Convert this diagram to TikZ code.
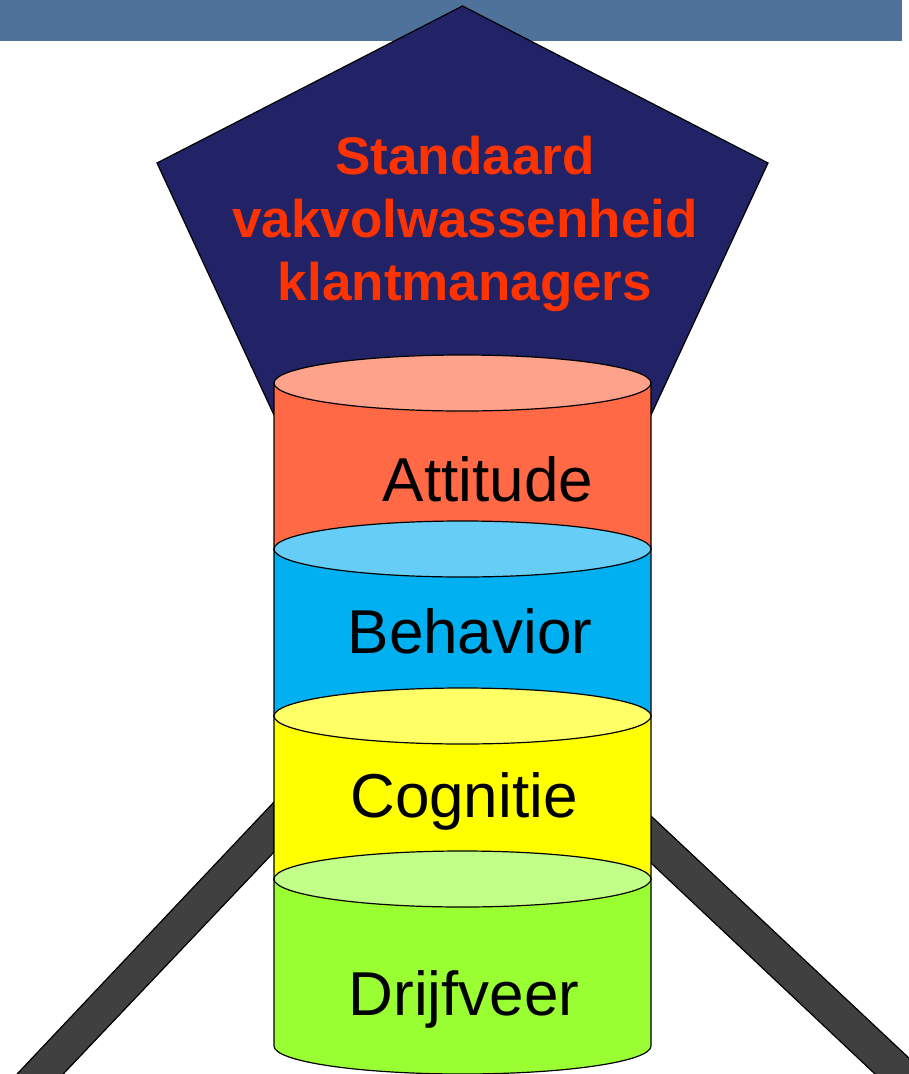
\documentclass[tikz,border=0pt]{standalone}
\usepackage{fontspec}
\setmainfont{Liberation Sans}
\definecolor{barblue}{HTML}{4E7299}
\definecolor{penta}{HTML}{222266}
\definecolor{titlered}{HTML}{FF3300}
\definecolor{attbody}{HTML}{FF6946}
\definecolor{atttop}{HTML}{FFA28C}
\definecolor{behbody}{HTML}{00B0F0}
\definecolor{behtop}{HTML}{66CEF6}
\definecolor{cogbody}{HTML}{FFFF00}
\definecolor{cogtop}{HTML}{FFFF66}
\definecolor{drijbody}{HTML}{99FF33}
\definecolor{drijtop}{HTML}{C2FF88}
\definecolor{leggray}{HTML}{404040}
\begin{document}
\begin{tikzpicture}[x=1pt,y=-1pt,
  outline/.style={draw=black,line width=1.2pt,line join=miter},
  titletext/.style={inner sep=0pt,anchor=base,text=titlered,font=\fontsize{53}{63}\selectfont\bfseries},
  layertext/.style={inner sep=0pt,anchor=base,text=black,font=\fontsize{62}{70}\selectfont}]
\useasboundingbox (0,0) rectangle (909,1074);
\clip (0,0) rectangle (909,1074);
% top bar
\fill[barblue] (0,0) rectangle (902,41);
% legs
\filldraw[outline,fill=leggray] (274,802) -- (2,1090) -- (48,1090) -- (274,852) -- cycle;
\filldraw[outline,fill=leggray] (651,816) -- (943,1090) -- (892,1090) -- (651,863) -- cycle;
% pentagon
\filldraw[outline,fill=penta] (462.5,6) -- (768,163) -- (651,415) -- (274,415) -- (157,163) -- cycle;
\node[titletext] (t1) at (465,174) {Standaard};
\node[titletext] (t2) at (465,237) {vakvolwassenheid};
\node[titletext] (t3) at (465,300) {klantmanagers};
% cylinders
\def\cyl#1#2#3#4{%
  \filldraw[outline,fill=#3] (274,#1) -- (274,#2) arc[start angle=180,end angle=0,x radius=188.5,y radius=28] -- (651,#1) -- cycle;
  \filldraw[outline,fill=#4] (462.5,#1) ellipse[x radius=188.5,y radius=28];}
\cyl{383}{549}{attbody}{atttop}
\cyl{549}{716}{behbody}{behtop}
\cyl{716}{879}{cogbody}{cogtop}
\cyl{879}{1046}{drijbody}{drijtop}
\node[layertext] (att) at (488,501) {Attitude};
\node[layertext] (beh) at (470,653) {Behavior};
\node[layertext] (cog) at (464,817) {Cognitie};
\node[layertext] (drij) at (464,1015) {Drijfveer};
\end{tikzpicture}
\end{document}
